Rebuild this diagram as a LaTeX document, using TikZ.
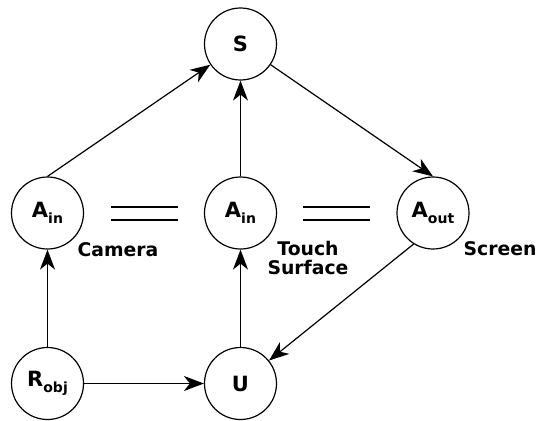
\documentclass[tikz,border=0pt]{standalone}
\usepackage{fontspec}
\setmainfont{DejaVu Sans}
\usetikzlibrary{arrows.meta}
\newcommand{\sbx}[1]{\raisebox{-0.28em}{\fontsize{14}{14}\selectfont #1}}
\tikzset{
  state/.style={circle, draw, line width=1.2pt, minimum size=72pt, inner sep=0pt,
    font=\fontsize{21}{21}\selectfont\bfseries},
  lbl/.style={font=\fontsize{18.8}{19}\selectfont\bfseries, align=center, inner sep=0pt},
  arr/.style={line width=1.2pt, -{Stealth[length=20pt, width=15pt, inset=6pt]}},
  eqline/.style={line width=1.2pt}
}
\begin{document}
\begin{tikzpicture}[x=1pt, y=-1pt]
\useasboundingbox (0,0) rectangle (537,420);
\node[state] (S) at (240.5,44) {S};
\node[state] (A1) at (47.5,213) {A\sbx{in}};
\node[state] (A2) at (240.5,213) {A\sbx{in}};
\node[state] (A3) at (433,213) {A\sbx{out}};
\node[state] (R) at (47.5,383.5) {R\sbx{obj}};
\node[state] (U) at (240.5,383.5) {U};
\node[lbl] (cam) at (118,250) {Camera};
\node[lbl] (touch) at (308,257.5) {Touch\\Surface};
\node[lbl] (scr) at (500,249) {Screen};
\coordinate (e1a) at (111,207); \coordinate (e1b) at (178,207);
\coordinate (e1c) at (111,220); \coordinate (e1d) at (178,220);
\coordinate (e2a) at (303,207); \coordinate (e2b) at (370,207);
\coordinate (e2c) at (303,220); \coordinate (e2d) at (370,220);
\draw[eqline] (e1a) -- (e1b);
\draw[eqline] (e1c) -- (e1d);
\draw[eqline] (e2a) -- (e2b);
\draw[eqline] (e2c) -- (e2d);
\draw[arr] (A1.north) -- (S);
\draw[arr] (A2.north) -- (S.south);
\draw[arr] (S) -- (A3.north);
\draw[arr] (R.north) -- (A1.south);
\draw[arr] (U.north) -- (A2.south);
\draw[arr] (R.east) -- (U.west);
\draw[arr] (A3.238) -- (U);
\end{tikzpicture}
\end{document}
